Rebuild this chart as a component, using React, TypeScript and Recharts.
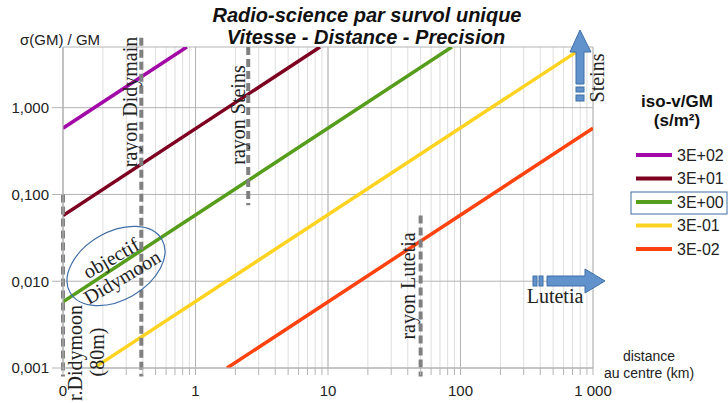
import React from "react";
import { LineChart, Line, XAxis, YAxis, CartesianGrid, ReferenceLine } from "recharts";

// distance au centre (km) / sigma(GM)/GM
const xMajorTicks = [0.1, 1, 10, 100, 1000];
const xMajorLabels = ["0", "1", "10", "100", "1 000"];
const xMinorTicks = [
  0.2, 0.3, 0.4, 0.5, 0.6, 0.7, 0.8, 0.9,
  2, 3, 4, 5, 6, 7, 8, 9,
  20, 30, 40, 50, 60, 70, 80, 90,
  200, 300, 400, 500, 600, 700, 800, 900,
];
const yTicks = [0.001, 0.01, 0.1, 1];
const yTickLabels = ["0,001", "0,010", "0,100", "1,000"];

const seriesNames = ["3E+02", "3E+01", "3E+00", "3E-01", "3E-02"];
const seriesColors = ["#a20aa8", "#7e0021", "#579d1c", "#ffd320", "#ff420e"];

const iso300 = [{ d: 0.1, s: 0.58 }, { d: 0.86, s: 5 }];
const iso30 = [{ d: 0.1, s: 0.057 }, { d: 8.7, s: 5 }];
const iso3 = [{ d: 0.1, s: 0.0058 }, { d: 86, s: 5 }];
const iso03 = [{ d: 0.18, s: 0.00105 }, { d: 760, s: 4.45 }];
const iso003 = [{ d: 1.73, s: 0.001 }, { d: 1000, s: 0.58 }];
const seriesData = [iso300, iso30, iso3, iso03, iso003];

// rayons (dashed markers): x position, top and bottom of the segment
const rayonNames = ["r.Didymoon", "rayon Didymain", "rayon Steins", "rayon Lutetia"];
const rayonX = [0.1, 0.39, 2.5, 50];
const rayonTop = [0.1, 6.4, 5, 0.057];
const rayonBottom = [0.0008, 0.0008, 0.075, 0.0008];

const sans = "'Liberation Sans', Arial, sans-serif";
const serif = "'Liberation Serif', 'Times New Roman', serif";
const arrowFill = "#6192cc";
const arrowStroke = "#3f6ea6";

const allXTicks = [...xMajorTicks, ...xMinorTicks].sort((a, b) => a - b);

function xLabel(v: number) {
  const i = xMajorTicks.indexOf(v);
  return i >= 0 ? xMajorLabels[i] : "";
}

function yLabel(v: number) {
  const i = yTicks.indexOf(v);
  return i >= 0 ? yTickLabels[i] : "";
}

function Overlay() {
  return (
    <svg
      width={728}
      height={403}
      style={{ position: "absolute", left: 0, top: 0, pointerEvents: "none" }}
    >
      <g fontFamily={sans} fontWeight="bold" fontStyle="italic" fontSize={20} fill="#111" textAnchor="middle">
        <text x={367} y={22}>Radio-science par survol unique</text>
        <text x={366} y={44}>Vitesse - Distance - Precision</text>
      </g>
      <text x={20} y={45} fontFamily={sans} fontSize={15} fill="#222">σ(GM) / GM</text>
      <g fontFamily={sans} fontSize={14} fill="#222" textAnchor="middle">
        <text x={649} y={361}>distance</text>
        <text x={649} y={378}>au centre (km)</text>
      </g>

      <g fontFamily={serif} fontSize={20} fill="#222" textAnchor="middle" dominantBaseline="central">
        <text transform="translate(75,353) rotate(-90)">{rayonNames[0]}</text>
        <text transform="translate(97,352) rotate(-90)">(80m)</text>
        <text transform="translate(130,102) rotate(-90)">{rayonNames[1]}</text>
        <text transform="translate(238,115) rotate(-90)">{rayonNames[2]}</text>
        <text transform="translate(408,286) rotate(-90)">{rayonNames[3]}</text>
        <text transform="translate(111,258) rotate(-30)">objectif</text>
        <text transform="translate(122,277) rotate(-31)">Didymoon</text>
        <text x={555} y={296}>Lutetia</text>
        <text transform="translate(597,78) rotate(-90)">Steins</text>
      </g>
      <ellipse
        cx={116}
        cy={266}
        rx={53}
        ry={34}
        transform="rotate(-30 116 266)"
        fill="none"
        stroke="#3f6ea6"
        strokeWidth={1.2}
      />

      <g fill={arrowFill} stroke={arrowStroke} strokeWidth={1}>
        <rect x={533} y={276} width={4} height={10} />
        <rect x={539} y={276} width={4} height={10} />
        <path d="M547,276 L585,276 L585,269 L605,281 L585,293 L585,286 L547,286 Z" />
        <rect x={576} y={95} width={8} height={6} />
        <rect x={576} y={87} width={8} height={5} />
        <path d="M576,84 L576,52 L570,52 L580,30 L591,52 L584,52 L584,84 Z" />
      </g>

      <g fontFamily={sans}>
        <text x={677} y={107} fontSize={17} fontWeight="bold" textAnchor="middle" fill="#111">iso-v/GM</text>
        <text x={677} y={126} fontSize={17} fontWeight="bold" textAnchor="middle" fill="#111">(s/m²)</text>
        {seriesNames.map((name, i) => {
          const y = 155 + i * 23.5;
          return (
            <g key={name}>
              <line x1={636} x2={672} y1={y} y2={y} stroke={seriesColors[i]} strokeWidth={4} />
              <text x={677} y={y} dy="0.36em" fontSize={16} fill="#222">{name}</text>
            </g>
          );
        })}
        <rect x={631} y={192} width={96} height={22} fill="none" stroke="#3f6ea6" strokeWidth={1} />
      </g>
    </svg>
  );
}

export default function App() {
  return (
    <div style={{ position: "absolute", left: 0, top: 0, width: 728, height: 403, background: "#fff" }}>
      <LineChart width={728} height={403} margin={{ top: 47, right: 135, bottom: 0, left: 0 }}>
        <CartesianGrid horizontal={false} stroke="#dedede" />
        <XAxis
          dataKey="d"
          type="number"
          scale="log"
          domain={[0.1, 1000]}
          allowDataOverflow
          ticks={allXTicks}
          interval={0}
          tickFormatter={xLabel}
          height={35}
          tickSize={7}
          tickMargin={10}
          stroke="#b3b3b3"
          tick={{ fill: "#222", fontSize: 15, fontFamily: sans }}
        />
        <YAxis
          dataKey="s"
          type="number"
          scale="log"
          domain={[0.001, 5]}
          allowDataOverflow
          ticks={yTicks}
          interval={0}
          tickFormatter={yLabel}
          width={63}
          tickSize={11}
          tickMargin={3}
          stroke="#b3b3b3"
          tick={{ fill: "#222", fontSize: 15, fontFamily: sans }}
        />
        {xMajorTicks.map((v) => (
          <ReferenceLine key={"x" + v} x={v} stroke="#b3b3b3" strokeWidth={1} />
        ))}
        {yTicks.map((v) => (
          <ReferenceLine key={"y" + v} y={v} stroke="#b3b3b3" strokeWidth={1} />
        ))}
        <ReferenceLine y={5} stroke="#b3b3b3" strokeWidth={1} />
        {seriesData.map((data, i) => (
          <Line
            key={seriesNames[i]}
            data={data}
            dataKey="s"
            stroke={seriesColors[i]}
            strokeWidth={3.5}
            dot={false}
            isAnimationActive={false}
          />
        ))}
        {rayonX.map((x, i) => (
          <ReferenceLine
            key={rayonNames[i]}
            segment={[
              { x, y: rayonTop[i] },
              { x, y: rayonBottom[i] },
            ]}
            stroke="#808080"
            strokeWidth={4}
            strokeDasharray="8 4"
            ifOverflow="visible"
          />
        ))}
      </LineChart>
      <Overlay />
    </div>
  );
}
